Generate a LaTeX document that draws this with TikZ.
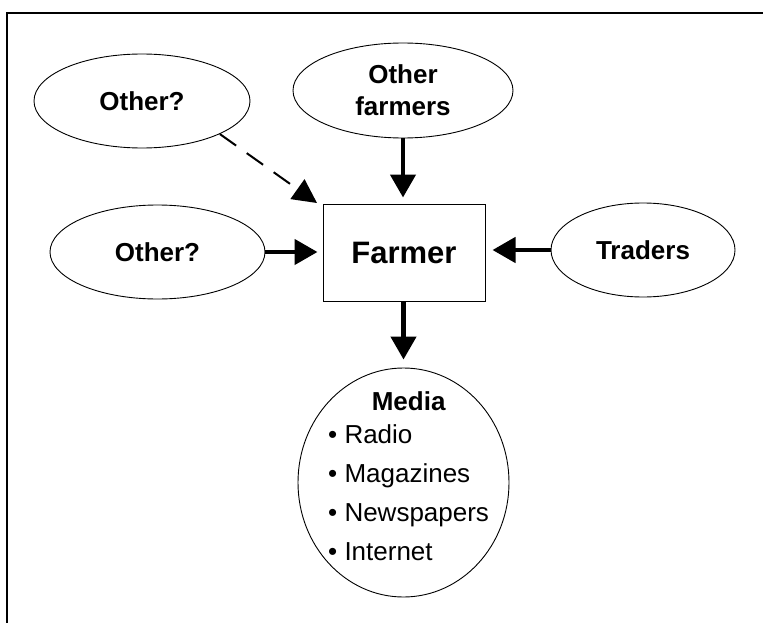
\documentclass[tikz,border=0pt]{standalone}
\usepackage{fontspec}
\setmainfont{Liberation Sans}
\usetikzlibrary{shapes.geometric,arrows.meta}
\tikzset{
  oval/.style={draw,ellipse,line width=0.9pt,inner sep=0pt,font=\fontsize{26}{32}\selectfont\bfseries,align=center},
  fbox/.style={draw,line width=1pt,inner sep=0pt,minimum width=162pt,minimum height=97pt,font=\fontsize{31}{36}\selectfont\bfseries},
  bigarrow/.style={line width=4.5pt,-{Triangle[length=23pt,width=25pt]}},
  dasharrow/.style={line width=2pt,dash pattern=on 20pt off 13pt,-{Triangle[length=24pt,width=24pt]}},
  frameline/.style={line width=2pt}
}
\begin{document}
\begin{tikzpicture}[x=1pt,y=-1pt]
\useasboundingbox (0,0) rectangle (763,623);
\draw[frameline] (7,623) -- (7,13.5) -- (763,13.5);
\node[fbox] (farmer) at (404,252.5) {Farmer};
\node[oval,minimum width=216pt,minimum height=94pt] (o1) at (142,101) {Other?};
\node[oval,minimum width=220pt,minimum height=95pt] (of) at (403,90.5) {Other\\farmers};
\node[oval,minimum width=215pt,minimum height=94pt] (o2) at (157.5,252) {Other?};
\node[oval,minimum width=184pt,minimum height=94pt] (tr) at (643,250) {Traders};
\node[draw,ellipse,line width=0.9pt,inner sep=0pt,minimum width=211pt,minimum height=229pt] (media) at (403.5,482.5) {};
\node[font=\fontsize{26}{39}\selectfont,inner sep=0pt,anchor=north west] (mlist) at (328,382.5) {\begin{tabular}{@{}l@{}}\multicolumn{1}{c}{\bfseries Media}\\[-6pt]• Radio\\• Magazines\\• Newspapers\\• Internet\end{tabular}};
\coordinate (dtip) at (317,203);
\draw[dasharrow] (o1.-23) -- (dtip);
\draw[bigarrow,shorten >=6pt] (of.south) -- (farmer.north -| of.south);
\draw[bigarrow,shorten >=5pt] (o2.east) -- (farmer.west |- o2.east);
\draw[bigarrow,shorten >=7pt] (tr.west) -- (farmer.east |- tr.west);
\draw[bigarrow,shorten >=8pt] (farmer.south -| media.north) -- (media.north);
\end{tikzpicture}
\end{document}
